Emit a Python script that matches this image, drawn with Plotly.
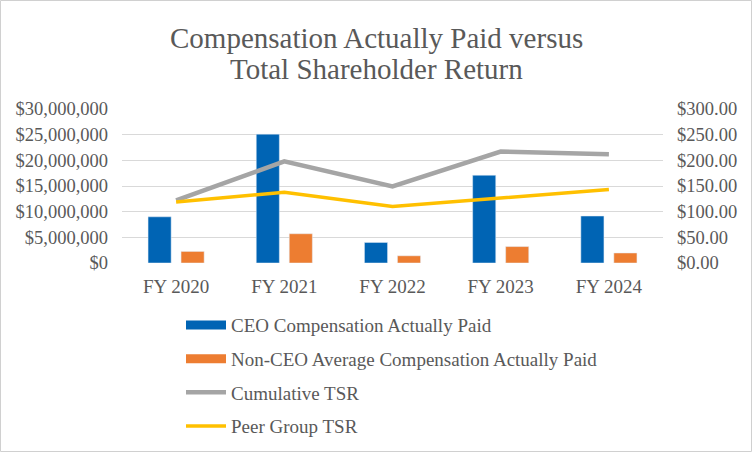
import plotly.graph_objects as go

years = ["FY 2020", "FY 2021", "FY 2022", "FY 2023", "FY 2024"]
ceo_cap = [9000000, 25100000, 4000000, 17100000, 9150000]
non_ceo_cap = [2250000, 5700000, 1400000, 3200000, 1950000]
cumulative_tsr = [122, 198, 149, 217, 212]
peer_tsr = [119, 138, 110, 127, 143]

left_ticks = [0, 5000000, 10000000, 15000000, 20000000, 25000000, 30000000]
left_labels = ["$0", "$5,000,000", "$10,000,000", "$15,000,000", "$20,000,000", "$25,000,000", "$30,000,000"]
right_ticks = [0, 50, 100, 150, 200, 250, 300]
right_labels = ["$0.00", "$50.00", "$100.00", "$150.00", "$200.00", "$250.00", "$300.00"]
title_lines = ["Compensation Actually Paid versus", "Total Shareholder Return"]

BLUE = "#0064B4"
ORANGE = "#ED7D31"
GRAY = "#A5A5A5"
YELLOW = "#FFC000"
TXT = "#595959"
FONT = "Liberation Serif"

fig = go.Figure()
fig.add_trace(go.Bar(x=years, y=ceo_cap, marker_color=BLUE, name="CEO Compensation Actually Paid",
                     showlegend=False, legendgroup="a"))
fig.add_trace(go.Bar(x=years, y=non_ceo_cap, marker_color=ORANGE, name="Non-CEO Average Compensation Actually Paid",
                     showlegend=False, legendgroup="b"))
fig.add_trace(go.Scatter(x=years, y=cumulative_tsr, mode="lines", line=dict(color=GRAY, width=4.5),
                         name="Cumulative TSR", yaxis="y2", legendgroup="c", legendrank=3))
fig.add_trace(go.Scatter(x=years, y=peer_tsr, mode="lines", line=dict(color=YELLOW, width=3.5),
                         name="Peer Group TSR", yaxis="y2", legendgroup="d", legendrank=4))
# legend proxies for bars (wide rectangles)
fig.add_trace(go.Scatter(x=[None], y=[None], mode="lines", line=dict(color=BLUE, width=9),
                         name="CEO Compensation Actually Paid", legendgroup="a", legendrank=1))
fig.add_trace(go.Scatter(x=[None], y=[None], mode="lines", line=dict(color=ORANGE, width=9),
                         name="Non-CEO Average Compensation Actually Paid", legendgroup="b", legendrank=2))

W, H = 752, 452
L, R, T, B = 122, 89, 109, 189
pw, ph = W - L - R, H - T - B

fig.update_layout(
    width=W, height=H,
    margin=dict(l=L, r=R, t=T, b=B, autoexpand=False),
    paper_bgcolor="white", plot_bgcolor="white",
    font=dict(family=FONT, color=TXT, size=18),
    barmode="group", bargap=0.39, bargroupgap=0.3,
    xaxis=dict(showgrid=False, showline=False, ticks="", tickfont=dict(size=19, color=TXT),
               ticklabelstandoff=10),
    yaxis=dict(range=[0, 30000000], tickvals=left_ticks, ticktext=left_labels,
               showgrid=True, gridcolor="#D9D9D9", gridwidth=1, zeroline=False,
               tickfont=dict(size=18.5, color=TXT), ticklabelstandoff=13),
    yaxis2=dict(range=[0, 300], tickvals=right_ticks, ticktext=right_labels, overlaying="y", side="right",
                showgrid=False, zeroline=False, tickfont=dict(size=18.5, color=TXT), ticklabelstandoff=13),
    legend=dict(x=(181 - L) / pw, xanchor="left", y=-0.28, yanchor="top",
                traceorder="grouped", tracegroupgap=6, itemwidth=40,
                font=dict(size=19, color=TXT, family=FONT), bgcolor="rgba(0,0,0,0)"),
    showlegend=True,
)
for i, (txt, ypx) in enumerate(zip(title_lines, [38, 69])):
    fig.add_annotation(text=txt, xref="paper", yref="paper", x=(376 - L) / pw, y=(H - B - ypx) / ph,
                       xanchor="center", yanchor="middle", showarrow=False,
                       font=dict(family=FONT, size=29, color=TXT))
fig.add_shape(type="rect", xref="paper", yref="paper",
              x0=-(L - 0.5) / pw, x1=1 + (R - 0.5) / pw, y0=-(B - 0.5) / ph, y1=1 + (T - 0.5) / ph,
              line=dict(color="#D0D0D0", width=1), fillcolor="rgba(0,0,0,0)", layer="below")

fig.write_html("out.html", config={"displayModeBar": False},
               post_script="document.body.style.margin='0';document.body.style.overflow='hidden';")
